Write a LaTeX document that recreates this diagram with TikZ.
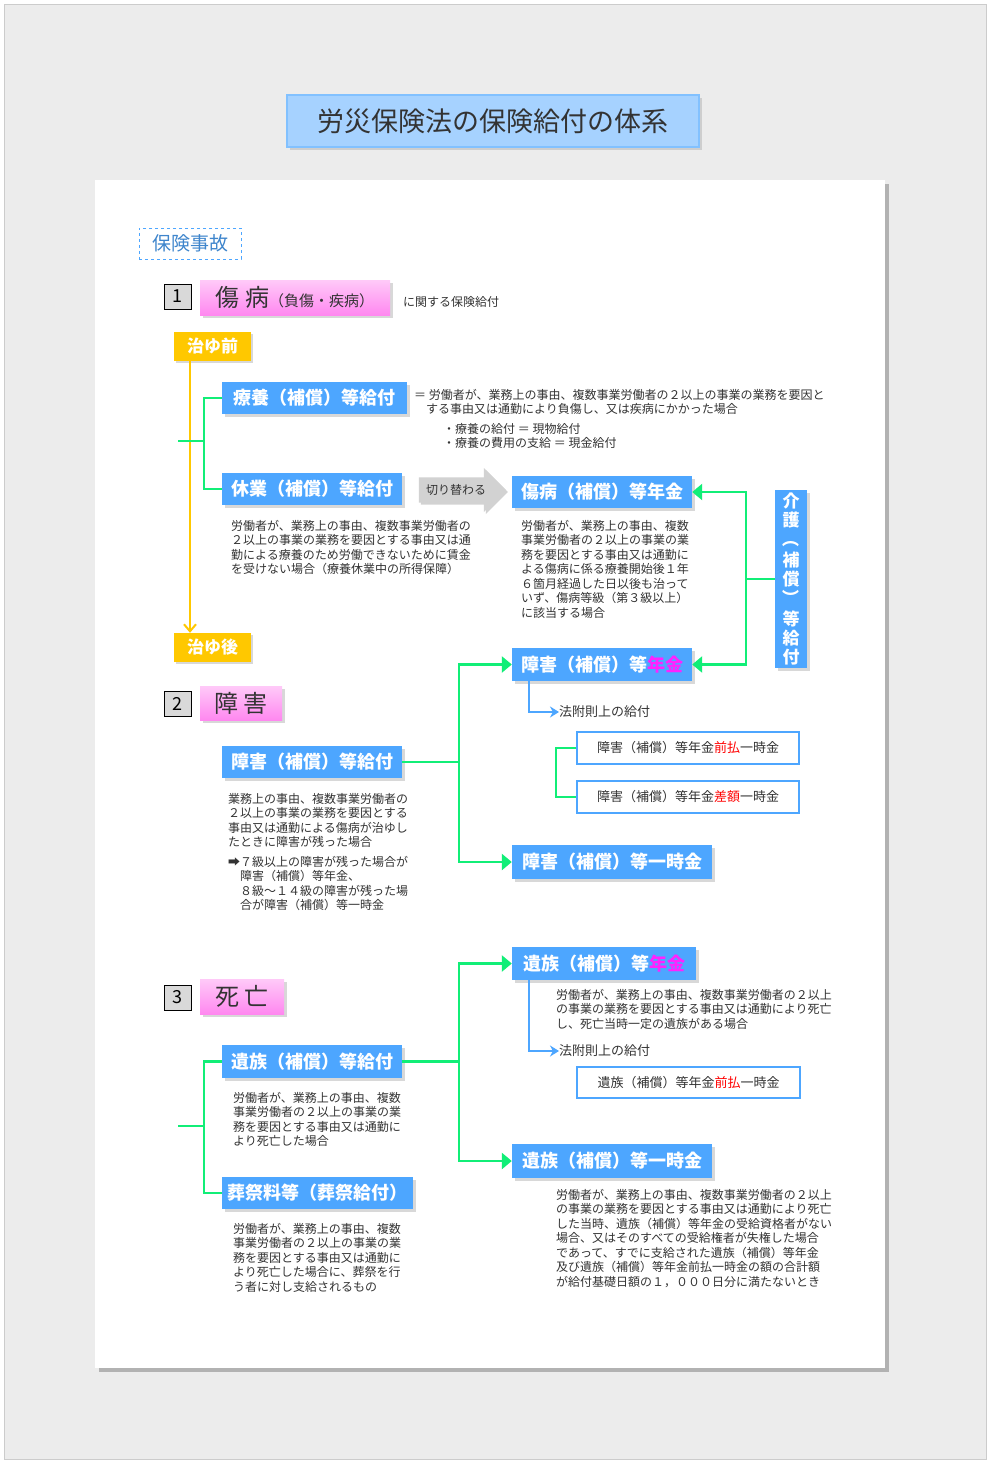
\documentclass[tikz,border=0pt]{standalone}
\usepackage{fontspec}
\setmainfont{Noto Sans CJK JP}
\usetikzlibrary{arrows.meta,shadows,shapes.arrows}
\definecolor{benblue}{HTML}{4DA6FF}
\definecolor{linkgreen}{HTML}{11EE77}
\definecolor{stageyel}{HTML}{FFC800}
\definecolor{bodygray}{HTML}{333333}
\definecolor{eventpink}{HTML}{FF88F0}
\definecolor{nenkinpink}{HTML}{FF22FF}
\newcommand{\vparen}[1]{\raisebox{0pt}[14pt][5pt]{\rotatebox[origin=c]{-90}{#1}}}
\tikzset{
  benefit/.style={fill=benblue,text=white,font=\fontsize{18}{20}\selectfont\bfseries,inner sep=0pt,
    drop shadow={shadow xshift=3pt,shadow yshift=-3pt,fill=gray!60}},
  subbox/.style={draw=benblue,line width=2pt,fill=white,text=bodygray,font=\fontsize{13}{15}\selectfont,inner sep=0pt},
  eventbox/.style={top color=eventpink!45,bottom color=eventpink,text=bodygray,inner sep=0pt,
    drop shadow={shadow xshift=3pt,shadow yshift=-3pt,fill=gray!60}},
  numbox/.style={draw=black,fill=gray!30,font=\fontsize{18}{20}\selectfont,inner sep=0pt,minimum width=27pt,minimum height=25pt},
  stagebox/.style={fill=stageyel,text=white,font=\fontsize{17}{19}\selectfont\bfseries,inner sep=0pt,
    minimum width=77pt,minimum height=29pt,drop shadow={shadow xshift=2pt,shadow yshift=-2pt,fill=gray!60}},
  bodytext/.style={anchor=north west,align=left,text=bodygray,font=\fontsize{12}{14.5}\selectfont,inner sep=0pt},
  link/.style={draw=linkgreen,line width=2.5pt},
  linkarrow/.style={link,-{Triangle[length=10pt,width=16pt]}},
  bluelink/.style={draw=benblue,line width=2pt,-{Stealth[length=9pt,width=11pt]}}
}
\begin{document}
\begin{tikzpicture}[x=1pt,y=-1pt]
  % page and background
  \fill[white] (0,0) rectangle (990,1463);
  \draw[gray!40,fill=gray!15] (4,4) rectangle (986,1459);
  \fill[gray!60] (99,184) rectangle (889,1372);
  \fill[white] (95,180) rectangle (885,1368);

  % title
  \node[fill=benblue!50,draw=benblue!70,line width=1.5pt,minimum width=412pt,minimum height=52pt,
    font=\fontsize{27}{29}\selectfont,text=bodygray,drop shadow={shadow xshift=3pt,shadow yshift=-3pt,fill=gray!60}]
    (title) at (493,121) {労災保険法の保険給付の体系};
  \node[draw=benblue,dashed,text=benblue!80!black,font=\fontsize{19}{21}\selectfont,minimum width=102pt,minimum height=31pt]
    (jiko) at (190,243.5) {保険事故};

  % 1 injury
  \node[numbox] (num1) at (177.5,296.5) {1};
  \node[eventbox,minimum width=190pt,minimum height=35pt] (injury) at (295,297.5)
    {\fontsize{24}{26}\selectfont 傷 病\fontsize{15}{17}\selectfont（負傷・疾病）};
  \node[bodytext,anchor=west] (injuryrel) at (403,302) {に関する保険給付};
  \node[stagebox] (before) at (212.5,346.5) {治ゆ前};
  \node[stagebox] (after) at (212.5,647.5) {治ゆ後};
  \draw[stageyel,line width=2pt,-{Straight Barb[length=7pt,width=12pt]}] (before.south -| 190,0) -- (after.north -| 190,0);

  \node[benefit,minimum width=185pt,minimum height=32pt] (ryoyo) at (314.5,398) {療養（補償）等給付};
  \node[benefit,minimum width=180pt,minimum height=32pt] (kyugyo) at (312,489) {休業（補償）等給付};
  \coordinate (brk1) at (178,441);
  \draw[link] (brk1) -- (204,441);
  \draw[link] (ryoyo.west) -- (204,398) -- (204,489) -- (kyugyo.west);
  \node[bodytext] (ryoyotext) at (414,389) {＝ 労働者が、業務上の事由、複数事業労働者の２以上の事業の業務を要因と\\\hspace{1em}する事由又は通勤により負傷し、又は疾病にかかった場合};
  \node[bodytext] (ryoyonote) at (443,423) {・療養の給付 ＝ 現物給付\\・療養の費用の支給 ＝ 現金給付};
  \node[bodytext] (kyugyotext) at (231,520) {労働者が、業務上の事由、複数事業労働者の\\２以上の事業の業務を要因とする事由又は通\\勤による療養のため労働できないために賃金\\を受けない場合（療養休業中の所得保障）};

  \node[single arrow,fill=gray!35,minimum height=87pt,minimum width=44pt,single arrow head extend=5pt,
    inner sep=1pt,font=\fontsize{12}{14}\selectfont,text=bodygray,drop shadow={shadow xshift=2pt,shadow yshift=-2pt,fill=gray!70}]
    (switch) at (456,490) {切り替わる\hspace{12pt}};
  \node[benefit,minimum width=180pt,minimum height=32pt] (shobyo) at (602,492) {傷病（補償）等年金};
  \node[bodytext] (shobyotext) at (521,520) {労働者が、業務上の事由、複数\\事業労働者の２以上の事業の業\\務を要因とする事由又は通勤に\\よる傷病に係る療養開始後１年\\６箇月経過した日以後も治って\\いず、傷病等級（第３級以上）\\に該当する場合};

  \node[benefit,minimum width=32pt,minimum height=178pt,align=center,font=\fontsize{17}{19}\selectfont\bfseries]
    (kaigo) at (791,579) {介\\護\\\vparen{（}\\補\\償\\\vparen{）}\\等\\給\\付};

  % 2 disability
  \node[numbox] (num2) at (177.5,703.5) {2};
  \node[eventbox,minimum width=82pt,minimum height=34pt,font=\fontsize{24}{26}\selectfont] (disab) at (241,703) {障 害};
  \node[benefit,minimum width=180pt,minimum height=33pt] (shogainenkin) at (602,664.5)
    {障害（補償）等\textcolor{nenkinpink}{年金}};
  \draw[linkarrow] (kaigo.west) -- (746,579) -- (746,492) -- (shobyo.east);
  \draw[linkarrow] (746,579) -- (746,664.5) -- (shogainenkin.east);

  \node[benefit,minimum width=180pt,minimum height=32pt] (shogaikyufu) at (312,762) {障害（補償）等給付};
  \node[bodytext] (shogaitext) at (228,793) {業務上の事由、複数事業労働者の\\２以上の事業の業務を要因とする\\事由又は通勤による傷病が治ゆし\\たときに障害が残った場合};
  \node[bodytext] (shogainote) at (228,856) {➡７級以上の障害が残った場合が\\\hspace{1em}障害（補償）等年金、\\\hspace{1em}８級～１４級の障害が残った場\\\hspace{1em}合が障害（補償）等一時金};
  \node[benefit,minimum width=200pt,minimum height=34pt] (shogaiichiji) at (612,862) {障害（補償）等一時金};
  \draw[link] (shogaikyufu.east) -- (459,762);
  \draw[linkarrow] (459,762) -- (459,664.5) -- (shogainenkin.west);
  \draw[linkarrow] (459,762) -- (459,862) -- (shogaiichiji.west);

  \node[bodytext,anchor=west,font=\fontsize{13}{15}\selectfont] (fusoku2) at (559,712) {法附則上の給付};
  \draw[bluelink] (shogainenkin.south -| 529,0) -- (529,712) -- (fusoku2.west);
  \node[subbox,minimum width=222pt,minimum height=32pt] (maebarai2) at (688,748)
    {障害（補償）等年金\textcolor{red}{前払}一時金};
  \node[subbox,minimum width=222pt,minimum height=32pt] (sagaku2) at (688,797)
    {障害（補償）等年金\textcolor{red}{差額}一時金};
  \draw[link,line width=2pt] (maebarai2.west) -- (556,748) -- (556,797) -- (sagaku2.west);

  % 3 death
  \node[numbox] (num3) at (177.5,997.5) {3};
  \node[eventbox,minimum width=84pt,minimum height=35pt,font=\fontsize{24}{26}\selectfont] (death) at (242,996.5) {死 亡};
  \node[benefit,minimum width=180pt,minimum height=33pt] (izokukyufu) at (312,1061.5) {遺族（補償）等給付};
  \node[benefit,minimum width=191pt,minimum height=32pt] (sosai) at (317.5,1193) {葬祭料等（葬祭給付）};
  \coordinate (brk3) at (178,1126);
  \draw[link] (brk3) -- (204,1126);
  \draw[link] (izokukyufu.west) -- (204,1061.5) -- (204,1193) -- (sosai.west);
  \node[bodytext] (izokutext) at (233,1092) {労働者が、業務上の事由、複数\\事業労働者の２以上の事業の業\\務を要因とする事由又は通勤に\\より死亡した場合};
  \node[bodytext] (sosaitext) at (233,1223) {労働者が、業務上の事由、複数\\事業労働者の２以上の事業の業\\務を要因とする事由又は通勤に\\より死亡した場合に、葬祭を行\\う者に対し支給されるもの};

  \node[benefit,minimum width=184pt,minimum height=33pt] (izokunenkin) at (604,963.5)
    {遺族（補償）等\textcolor{nenkinpink}{年金}};
  \node[benefit,minimum width=200pt,minimum height=34pt] (izokuichiji) at (612,1161) {遺族（補償）等一時金};
  \draw[link] (izokukyufu.east) -- (459,1061.5);
  \draw[linkarrow] (459,1061.5) -- (459,963.5) -- (izokunenkin.west);
  \draw[linkarrow] (459,1061.5) -- (459,1161) -- (izokuichiji.west);
  \node[bodytext] (nenkintext) at (556,989) {労働者が、業務上の事由、複数事業労働者の２以上\\の事業の業務を要因とする事由又は通勤により死亡\\し、死亡当時一定の遺族がある場合};
  \node[bodytext,anchor=west,font=\fontsize{13}{15}\selectfont] (fusoku3) at (559,1051) {法附則上の給付};
  \draw[bluelink] (izokunenkin.south -| 529,0) -- (529,1051) -- (fusoku3.west);
  \node[subbox,minimum width=223pt,minimum height=31pt] (maebarai3) at (688.5,1082.5)
    {遺族（補償）等年金\textcolor{red}{前払}一時金};
  \node[bodytext] (ichijitext) at (556,1189) {労働者が、業務上の事由、複数事業労働者の２以上\\の事業の業務を要因とする事由又は通勤により死亡\\した当時、遺族（補償）等年金の受給資格者がない\\場合、又はそのすべての受給権者が失権した場合\\であって、すでに支給された遺族（補償）等年金\\及び遺族（補償）等年金前払一時金の額の合計額\\が給付基礎日額の１，０００日分に満たないとき};
\end{tikzpicture}
\end{document}
